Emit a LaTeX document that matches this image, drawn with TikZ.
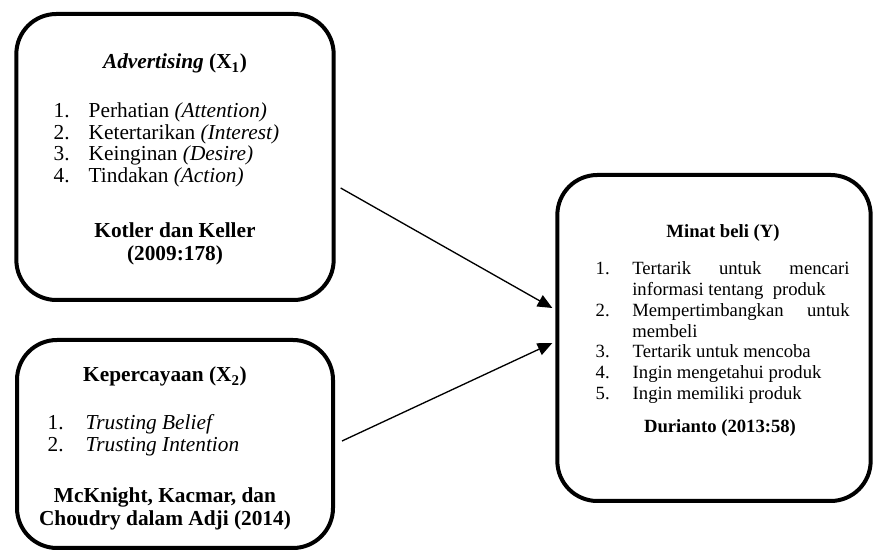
\documentclass[tikz,border=0pt]{standalone}
\usepackage{fontspec}
\setmainfont{Liberation Serif}
\usetikzlibrary{arrows.meta,calc}

\tikzset{
  box/.style={draw, line width=3pt, rounded corners=30pt},
  big/.style={font=\fontsize{16}{16}\selectfont, anchor=base},
  small/.style={font=\fontsize{14}{15.75}\selectfont, anchor=base},
  arr/.style={-{Triangle[length=11pt,width=9.5pt]}, line width=1pt}
}

\begin{document}
\begin{tikzpicture}[x=0.75pt,y=-0.75pt]
  \useasboundingbox (0,0) rectangle (876,552);
  % Boxes
  \node[box, minimum width=238pt, minimum height=214.5pt] (adv) at (175,157) {};
  \node[box, minimum width=237pt, minimum height=156pt] (trust) at (175,444) {};
  \node[box, minimum width=235pt, minimum height=244.5pt] (buy) at (714,338) {};
  % Advertising (X1)
  \node[big] (advt) at (175,69) {\textbf{\textit{Advertising} (X\textsubscript{1})}};
  \node[big, anchor=base west] (a1) at (49,118) {1.};
  \node[big, anchor=base west] (a2) at (49,139.5) {2.};
  \node[big, anchor=base west] (a3) at (49,161) {3.};
  \node[big, anchor=base west] (a4) at (49,182.5) {4.};
  \node[big, anchor=base west] at (84,118) {Perhatian \textit{(Attention)}};
  \node[big, anchor=base west] at (84,139.5) {Ketertarikan \textit{(Interest)}};
  \node[big, anchor=base west] at (84,161) {Keinginan \textit{(Desire)}};
  \node[big, anchor=base west] at (84,182.5) {Tindakan \textit{(Action)}};
  \node[big] (adva) at (175,238) {\textbf{Kotler dan Keller}};
  \node[big] at (175,261) {\textbf{(2009:178)}};
  % Kepercayaan (X2)
  \node[big] (trustt) at (165,382) {\textbf{Kepercayaan (X\textsubscript{2})}};
  \node[big, anchor=base west] (t1) at (43,430) {1.};
  \node[big, anchor=base west] (t2) at (43,451.5) {2.};
  \node[big, anchor=base west] at (81,430) {\textit{Trusting Belief}};
  \node[big, anchor=base west] at (81,451.5) {\textit{Trusting Intention}};
  \node[big] (trusta) at (165,503) {\textbf{McKnight, Kacmar, dan}};
  \node[big] at (165,526) {\textbf{Choudry dalam Adji (2014)}};
  % Minat beli (Y)
  \node[small] (buyt) at (723,238) {\textbf{Minat beli (Y)}};
  \node[small, anchor=base west] (b1) at (591,275) {1.};
  \node[small, anchor=base west] (b2) at (591,317) {2.};
  \node[small, anchor=base west] (b3) at (591,358) {3.};
  \node[small, anchor=base west] (b4) at (591,379) {4.};
  \node[small, anchor=base west] (b5) at (591,400) {5.};
  \node[small, anchor=base west, text width=163pt, align=justify, inner sep=0pt]
    at (632,275) {Tertarik untuk mencari\linebreak informasi tentang\ \ produk};
  \node[small, anchor=base west, text width=163pt, align=justify, inner sep=0pt]
    at (632,317) {Mempertimbangkan untuk\linebreak membeli};
  \node[small, anchor=base west] at (628,358) {Tertarik untuk mencoba};
  \node[small, anchor=base west] at (628,379) {Ingin mengetahui produk};
  \node[small, anchor=base west] at (628,400) {Ingin memiliki produk};
  \node[small] (buya) at (720,433) {\textbf{Durianto (2013:58)}};
  % Arrows
  \draw[arr] ($(adv.east)+(5,31)$) -- ($(buy.west)+(-3,-30)$);
  \draw[arr] ($(trust.east)+(7,-3)$) -- ($(buy.west)+(-3,5)$);
\end{tikzpicture}
\end{document}
